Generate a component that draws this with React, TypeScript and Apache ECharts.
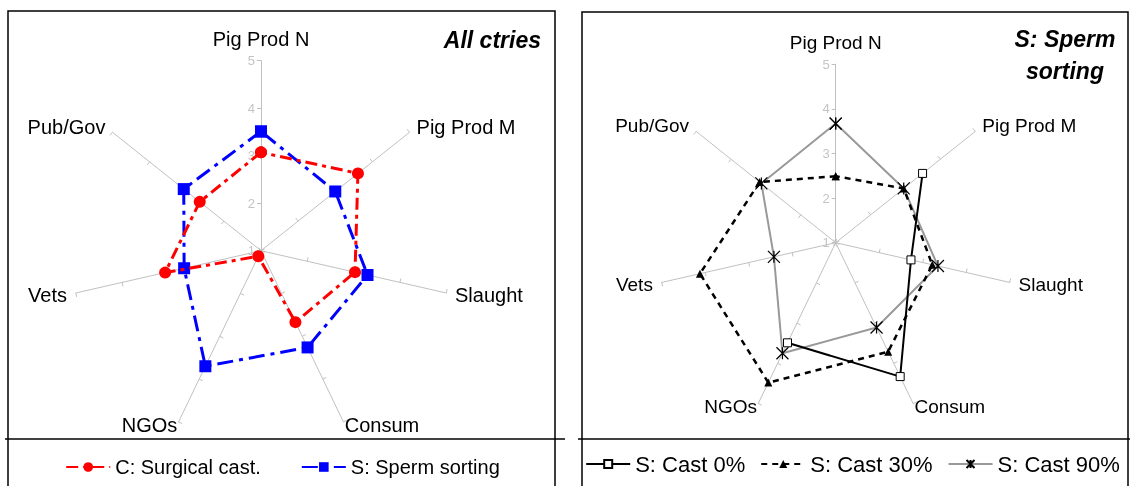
import React, { useEffect, useRef } from 'react';
import * as echarts from 'echarts';

// Axes of the radar, listed counter-clockwise from the top (the order ECharts lays them out)
const categories = ['Pig Prod N', 'Pub/Gov', 'Vets', 'NGOs', 'Consum', 'Slaught', 'Pig Prod M'];
const scaleMin = 1;
const scaleMax = 5;

// Panel 1: All ctries
const surgicalCast = [3.07, 2.65, 3.07, 1.13, 2.67, 3.03, 3.61];
const spermSorting = [3.51, 3.08, 2.66, 3.7, 3.26, 3.3, 3.0];

// Panel 2: S: Sperm sorting
const cast0 = [null, null, null, 3.49, 4.33, 2.73, 3.49];
const cast30 = [2.49, 3.18, 4.12, 4.48, 3.71, 3.22, 2.95];
const cast90 = [3.67, 3.13, 2.42, 3.75, 3.11, 3.35, 2.95];

const FONT = '"Liberation Sans", Arial, Helvetica, sans-serif';
const STAR = 'path://M0 0L10 10M10 0L0 10M5 0L5 10';

// closed polygon in the polar overlay: [radius value, axis index]
const toPolar = (vals: (number | null)[]) =>
  [...vals, vals[0]].map((v, k) => [v == null ? '-' : v, k]);

// per-axis distance of the name from the axis end
const nameGaps = [12, 9, 9, 3, 3, 9, 9];

function radarBase(center: number[], radius: number, nameSize: number) {
  return {
    radar: {
      center,
      radius,
      startAngle: 90,
      splitNumber: 4,
      shape: 'polygon',
      indicator: categories.map((name, i) => ({
        name,
        min: scaleMin,
        max: scaleMax,
        nameGap: nameGaps[i],
        axisLabel: { show: i === 0 },
      })),
      axisName: { color: '#000', fontSize: nameSize, fontFamily: FONT },
      nameGap: 9,
      axisLine: { lineStyle: { color: '#c0c0c0', width: 1 } },
      axisTick: { show: true, length: 4, lineStyle: { color: '#c0c0c0', width: 1 } },
      axisLabel: { show: false, color: '#c4c4c4', fontSize: 13, fontFamily: FONT, margin: 6 },
      splitLine: { show: false },
      splitArea: { show: false },
    },
    polar: { center, radius: [0, radius] },
    angleAxis: { type: 'value', min: 0, max: categories.length, startAngle: 90, clockwise: false, show: false },
    radiusAxis: { type: 'value', min: scaleMin, max: scaleMax, show: false },
  };
}

const leftOption = {
  animation: false,
  ...radarBase([261, 250.7], 190, 20),
  legend: {
    top: 452,
    left: 'center',
    itemWidth: 44,
    itemHeight: 12,
    itemGap: 40,
    data: ['C: Surgical cast.', 'S: Sperm sorting'],
    textStyle: { fontSize: 20, color: '#000', fontFamily: FONT },
  },
  graphic: [
    { type: 'rect', shape: { x: 8, y: 11, width: 547, height: 490 }, style: { fill: 'none', stroke: '#000', lineWidth: 1.5 }, z: 0 },
    { type: 'line', shape: { x1: 5, y1: 439, x2: 565, y2: 439 }, style: { stroke: '#000', lineWidth: 1.5 } },
    {
      type: 'text', x: 541, y: 40,
      style: { text: 'All ctries', fill: '#000', font: `italic bold 23px ${FONT}`, textAlign: 'right', textVerticalAlign: 'middle' },
    },
  ],
  series: [
    {
      name: 'C: Surgical cast.', type: 'line', coordinateSystem: 'polar', z: 4,
      data: toPolar(surgicalCast),
      symbol: 'circle', symbolSize: 12,
      lineStyle: { color: '#ff0000', width: 3, type: [12, 5, 4, 5] },
      itemStyle: { color: '#ff0000' },
    },
    {
      name: 'S: Sperm sorting', type: 'line', coordinateSystem: 'polar', z: 3,
      data: toPolar(spermSorting),
      symbol: 'rect', symbolSize: 12,
      lineStyle: { color: '#0000ff', width: 3, type: [16, 6, 4, 6] },
      itemStyle: { color: '#0000ff' },
    },
  ],
};

const rightOption = {
  animation: false,
  ...radarBase([260.7, 242.7], 178.5, 19),
  legend: {
    top: 448,
    left: 'center',
    itemWidth: 44,
    itemHeight: 10,
    itemGap: 15,
    data: ['S: Cast 0%', 'S: Cast 30%', 'S: Cast 90%'],
    textStyle: { fontSize: 22, color: '#000', fontFamily: FONT },
  },
  graphic: [
    { type: 'rect', shape: { x: 7, y: 12, width: 546, height: 490 }, style: { fill: 'none', stroke: '#000', lineWidth: 1.5 }, z: 0 },
    { type: 'line', shape: { x1: 3, y1: 439, x2: 560, y2: 439 }, style: { stroke: '#000', lineWidth: 1.5 } },
    {
      type: 'text', x: 490, y: 23,
      style: { text: 'S: Sperm\nsorting', fill: '#000', font: `italic bold 23px ${FONT}`, lineHeight: 32, textAlign: 'center', textVerticalAlign: 'top' },
    },
  ],
  series: [
    {
      name: 'S: Cast 0%', type: 'line', coordinateSystem: 'polar', z: 5, connectNulls: false,
      data: toPolar(cast0),
      symbol: 'rect', symbolSize: 8,
      lineStyle: { color: '#000', width: 2 },
      itemStyle: { color: '#fff', borderColor: '#000', borderWidth: 1 },
    },
    {
      name: 'S: Cast 30%', type: 'line', coordinateSystem: 'polar', z: 4,
      data: toPolar(cast30),
      symbol: 'triangle', symbolSize: 8,
      lineStyle: { color: '#000', width: 2.5, type: [6, 5] },
      itemStyle: { color: '#000' },
    },
    {
      name: 'S: Cast 90%', type: 'line', coordinateSystem: 'polar', z: 3,
      data: toPolar(cast90),
      symbol: STAR, symbolSize: 12,
      lineStyle: { color: '#999999', width: 2 },
      itemStyle: { color: '#000', borderColor: '#000', borderWidth: 1.2 },
    },
  ],
};

function Panel({ option, left, width }: { option: any; left: number; width: number }) {
  const ref = useRef<HTMLDivElement>(null);
  useEffect(() => {
    if (!ref.current) return;
    const chart = echarts.init(ref.current, undefined, { renderer: 'svg' });
    chart.setOption(option);
    return () => chart.dispose();
  }, [option]);
  return <div ref={ref} style={{ position: 'fixed', left, top: 0, width, height: 486 }} />;
}

export default function App() {
  return (
    <div style={{ width: 1130, height: 486, background: '#fff' }}>
      <Panel option={leftOption} left={0} width={565} />
      <Panel option={rightOption} left={575} width={555} />
    </div>
  );
}
